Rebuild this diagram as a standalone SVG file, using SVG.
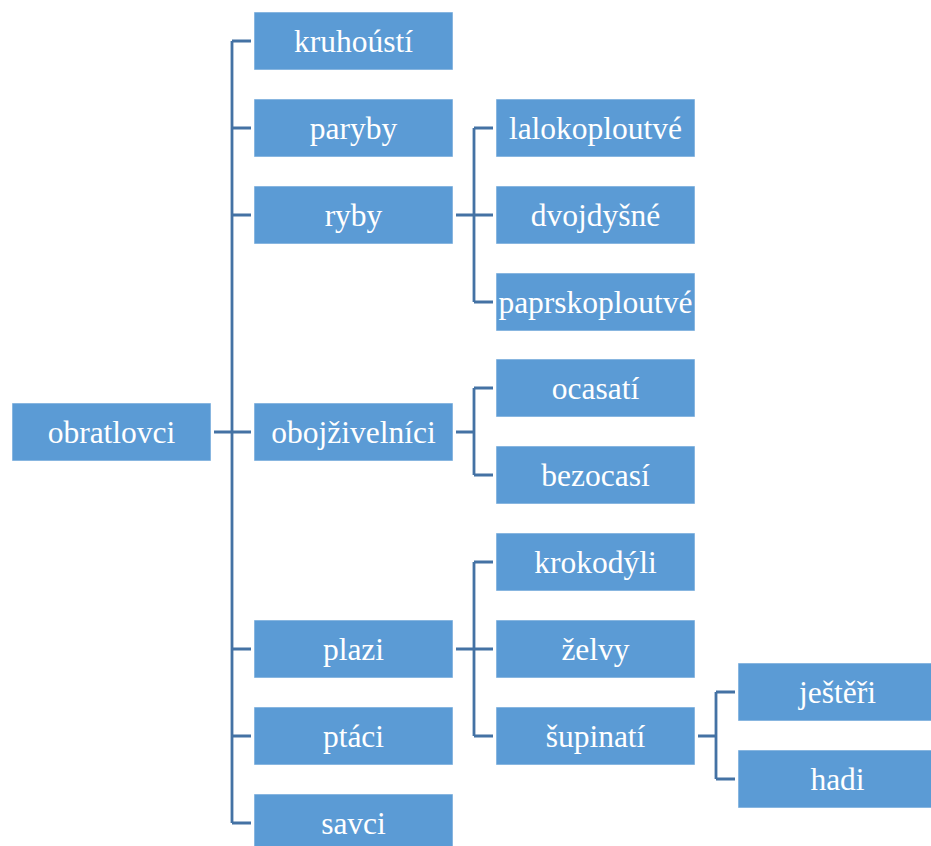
<svg xmlns="http://www.w3.org/2000/svg" width="931" height="846" viewBox="0 0 931 846">
  <style>
    .box rect { fill: #5B9BD5; stroke: #ffffff; stroke-opacity: 0.55; stroke-width: 1; }
    .box text { fill: #ffffff; font-size: 31.5px; text-anchor: middle; }
    #connectors path { fill: none; stroke: #4472A4; stroke-width: 2.8; }
  </style>
  <rect width="931" height="846" fill="#ffffff"/>

  <!-- connectors -->
  <g id="connectors">
    <!-- obratlovci -> level 1 -->
    <path d="M214 432 H251 M232 41 V823 M232 41 H251 M232 128 H251 M232 215 H251 M232 649 H251 M232 736 H251 M232 823 H251"/>
    <!-- ryby -> subclasses -->
    <path d="M456 215 H493 M474 128 V302 M474 128 H493 M474 302 H493"/>
    <!-- obojživelníci -> subclasses -->
    <path d="M456 432 H474 M474 388 V475 M474 388 H493 M474 475 H493"/>
    <!-- plazi -> subclasses -->
    <path d="M456 649 H493 M474 562 V736 M474 562 H493 M474 736 H493"/>
    <!-- šupinatí -> subclasses -->
    <path d="M698 736 H716 M716 692 V779 M716 692 H735 M716 779 H735"/>
  </g>

  <g font-family="'Liberation Serif', 'Times New Roman', 'DejaVu Serif', serif">
  <!-- root -->
  <g id="obratlovci" class="box"><rect x="12" y="403" width="199" height="58"/><text x="111.5" y="442.5">obratlovci</text></g>

  <!-- level 1 -->
  <g id="kruhousti" class="box"><rect x="254" y="12" width="199" height="58"/><text x="353.5" y="51.5">kruhoústí</text></g>
  <g id="paryby" class="box"><rect x="254" y="99" width="199" height="58"/><text x="353.5" y="138.5">paryby</text></g>
  <g id="ryby" class="box"><rect x="254" y="186" width="199" height="58"/><text x="353.5" y="225.5">ryby</text></g>
  <g id="obojzivelnici" class="box"><rect x="254" y="403" width="199" height="58"/><text x="353.5" y="442.5">obojživelníci</text></g>
  <g id="plazi" class="box"><rect x="254" y="620" width="199" height="58"/><text x="353.5" y="659.5">plazi</text></g>
  <g id="ptaci" class="box"><rect x="254" y="707" width="199" height="58"/><text x="353.5" y="746.5">ptáci</text></g>
  <g id="savci" class="box"><rect x="254" y="794" width="199" height="58"/><text x="353.5" y="833.5">savci</text></g>

  <!-- level 2 -->
  <g id="lalokoploutve" class="box"><rect x="496" y="99" width="199" height="58"/><text x="595.5" y="138.5">lalokoploutvé</text></g>
  <g id="dvojdysne" class="box"><rect x="496" y="186" width="199" height="58"/><text x="595.5" y="225.5">dvojdyšné</text></g>
  <g id="paprskoploutve" class="box"><rect x="496" y="273" width="199" height="58"/><text x="595.5" y="312.5">paprskoploutvé</text></g>
  <g id="ocasati" class="box"><rect x="496" y="359" width="199" height="58"/><text x="595.5" y="398.5">ocasatí</text></g>
  <g id="bezocasi" class="box"><rect x="496" y="446" width="199" height="58"/><text x="595.5" y="485.5">bezocasí</text></g>
  <g id="krokodyli" class="box"><rect x="496" y="533" width="199" height="58"/><text x="595.5" y="572.5">krokodýli</text></g>
  <g id="zelvy" class="box"><rect x="496" y="620" width="199" height="58"/><text x="595.5" y="659.5">želvy</text></g>
  <g id="supinati" class="box"><rect x="496" y="707" width="199" height="58"/><text x="595.5" y="746.5">šupinatí</text></g>

  <!-- level 3 -->
  <g id="jesteri" class="box"><rect x="738" y="663" width="199" height="58"/><text x="837.5" y="702.5">ještěři</text></g>
  <g id="hadi" class="box"><rect x="738" y="750" width="199" height="58"/><text x="837.5" y="789.5">hadi</text></g>
  </g>
</svg>
